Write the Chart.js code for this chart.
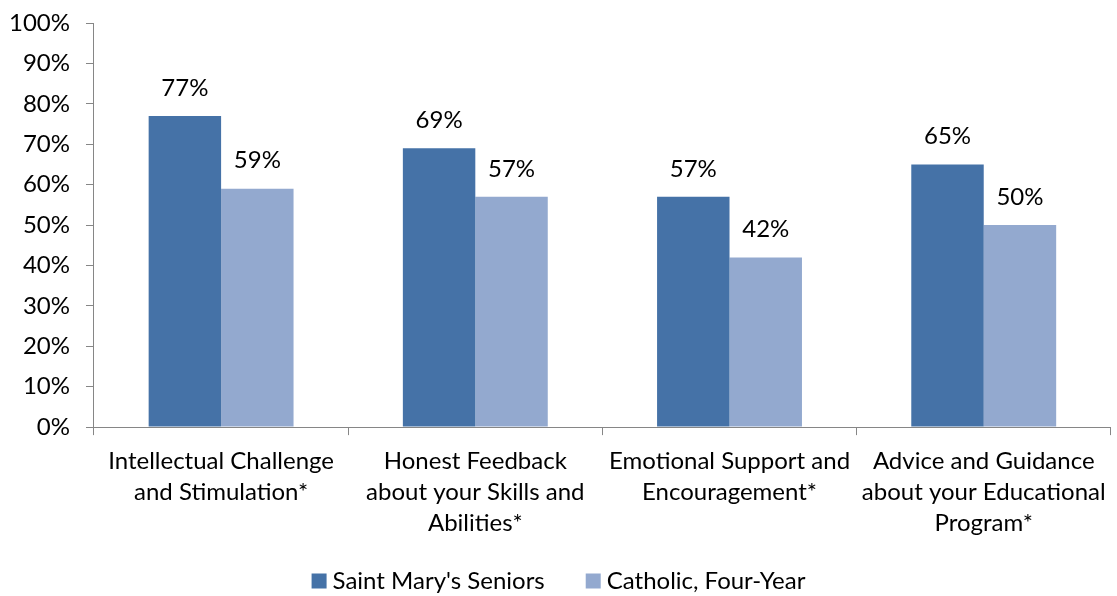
<!DOCTYPE html>
<html>
<head>
<meta charset="utf-8">
<script src="https://cdn.jsdelivr.net/npm/chart.js@4.4.1/dist/chart.umd.min.js"></script>
<style>
  html, body { margin: 0; padding: 0; background: #fff; }
  #wrap { width: 1117px; height: 596px; }
</style>
</head>
<body>
<div id="wrap"><canvas id="chart" width="1117" height="596"></canvas></div>
<script>
const categories = [
    ["Intellectual Challenge", "and Stimulation*"],
    ["Honest Feedback", "about your Skills and", "Abilities*"],
    ["Emotional Support and", "Encouragement*"],
    ["Advice and Guidance", "about your Educational", "Program*"]
];
const saintMarys = [77, 69, 57, 65];
const catholic = [59, 57, 42, 50];
const seriesNames = ["Saint Mary's Seniors", "Catholic, Four-Year"];

const FONT = "Lato, 'Open Sans', sans-serif";

// draws the % value above each bar
const valueLabels = {
    id: 'valueLabels',
    afterDatasetsDraw(chart) {
        const ctx = chart.ctx;
        ctx.save();
        ctx.font = "24px " + FONT;
        ctx.fillStyle = '#000';
        ctx.textAlign = 'center';
        ctx.textBaseline = 'middle';
        chart.data.datasets.forEach((ds, i) => {
            chart.getDatasetMeta(i).data.forEach((bar, j) => {
                ctx.fillText(ds.data[j] + '%', bar.x, bar.y - 28);
            });
        });
        ctx.restore();
    }
};

// legend row at the bottom, Excel-like spacing
const bottomLegend = {
    id: 'bottomLegend',
    afterDraw(chart) {
        const ctx = chart.ctx;
        const box = 15, gapText = 6, gapItem = 41;
        ctx.save();
        ctx.font = "24px " + FONT;
        ctx.textBaseline = 'middle';
        ctx.textAlign = 'left';
        const items = chart.data.datasets.map(ds => ({
            text: ds.label, color: ds.backgroundColor, w: ctx.measureText(ds.label).width
        }));
        let total = items.reduce((s, it) => s + box + gapText + it.w, 0) + gapItem * (items.length - 1);
        let x = (chart.width - total) / 2;
        const y = chart.height - 15;
        items.forEach(it => {
            ctx.fillStyle = it.color;
            ctx.fillRect(x, y - box / 2, box, box);
            ctx.fillStyle = '#000';
            ctx.fillText(it.text, x + box + gapText, y);
            x += box + gapText + it.w + gapItem;
        });
        ctx.restore();
    }
};

const ctx = document.getElementById('chart').getContext('2d');
new Chart(ctx, {
    type: 'bar',
    data: {
        labels: categories,
        datasets: [{
            label: seriesNames[0],
            data: saintMarys,
            backgroundColor: '#4572A7',
            barPercentage: 1.0,
            categoryPercentage: 0.57
        }, {
            label: seriesNames[1],
            data: catholic,
            backgroundColor: '#93A9CF',
            barPercentage: 1.0,
            categoryPercentage: 0.57
        }]
    },
    options: {
        responsive: false,
        animation: false,
        layout: { padding: { top: 23, right: 3, left: -7, bottom: 46 } },
        plugins: {
            legend: { display: false },
            tooltip: { enabled: false }
        },
        scales: {
            y: {
                min: 0,
                max: 100,
                ticks: {
                    stepSize: 10,
                    callback: v => v + '%',
                    font: { size: 24, family: FONT, lineHeight: 0.5 },
                    color: '#000',
                    padding: 16
                },
                grid: { drawOnChartArea: false, tickLength: 8, color: '#868686' },
                border: { color: '#868686' }
            },
            x: {
                ticks: {
                    font: { size: 24, family: FONT, lineHeight: 1.29 },
                    color: '#000',
                    padding: 11,
                    maxRotation: 0,
                    autoSkip: false
                },
                grid: { offset: true, drawOnChartArea: false, tickLength: 8, color: '#868686' },
                border: { color: '#868686' }
            }
        }
    },
    plugins: [valueLabels, bottomLegend]
});
</script>
</body>
</html>
